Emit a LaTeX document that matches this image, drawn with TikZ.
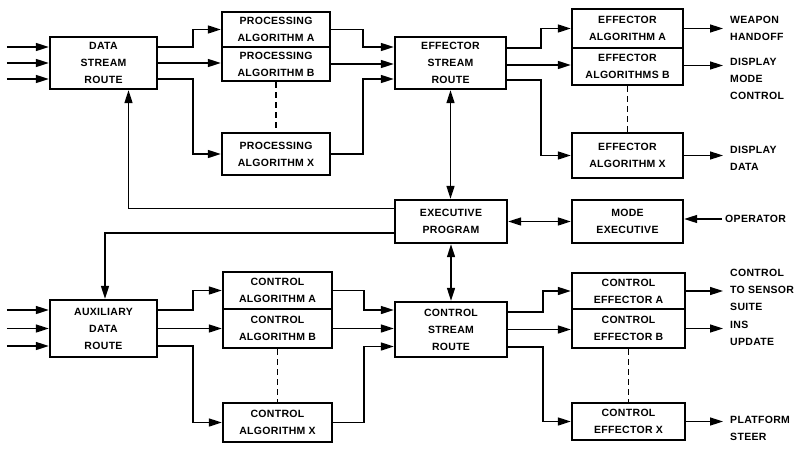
\documentclass[tikz,border=0pt]{standalone}
\usepackage{fontspec}
\setmainfont{Liberation Sans}[LetterSpace=3]
\usetikzlibrary{arrows.meta,calc}
\begin{document}
\begin{tikzpicture}[x=1pt,y=-1pt,
  every node/.style={font=\bfseries\fontsize{10.5}{17}\selectfont},
  box/.style={draw,line width=2.4pt,rectangle,align=center,inner sep=0pt},
  conn/.style={line width=1.5pt},
  arr/.style={conn,-{Triangle[length=13pt,width=8pt]}},
  darr/.style={conn,{Triangle[length=13pt,width=8pt]}-{Triangle[length=13pt,width=8pt]}},
  dsh/.style={conn,dash pattern=on 6pt off 4pt},
  lbl/.style={align=left,inner sep=0pt,anchor=west}]
\useasboundingbox (0,0) rectangle (799,452);

% --- upper chain: data stream ---
\node[box,minimum width=107pt,minimum height=52pt] (dsr) at (103.5,63) {DATA\\STREAM\\ROUTE};
\node[box,minimum width=108pt,minimum height=35pt] (pA) at (276,29.5) {PROCESSING\\ALGORITHM A};
\node[box,minimum width=108pt,minimum height=34pt] (pB) at (276,64) {PROCESSING\\ALGORITHM B};
\node[box,minimum width=108pt,minimum height=42pt] (pX) at (276,154) {PROCESSING\\ALGORITHM X};
\node[box,minimum width=111pt,minimum height=52pt] (esr) at (450.5,63) {EFFECTOR\\STREAM\\ROUTE};
\node[box,minimum width=111pt,minimum height=39pt] (eA) at (627.5,28.5) {EFFECTOR\\ALGORITHM A};
\node[box,minimum width=111pt,minimum height=37pt] (eB) at (627.5,66.5) {EFFECTOR\\ALGORITHMS B};
\node[box,minimum width=111pt,minimum height=45pt] (eX) at (627.5,155.5) {EFFECTOR\\ALGORITHM X};

% --- executive row ---
\node[box,minimum width=112pt,minimum height=43pt] (exe) at (451,221.5) {EXECUTIVE\\PROGRAM};
\node[box,minimum width=111pt,minimum height=43pt] (mode) at (627.5,221.5) {MODE\\EXECUTIVE};

% --- lower chain: auxiliary data ---
\node[box,minimum width=107pt,minimum height=57pt] (aux) at (103.5,328.5) {AUXILIARY\\DATA\\ROUTE};
\node[box,minimum width=109pt,minimum height=37pt] (cA) at (277.5,290.5) {CONTROL\\ALGORITHM A};
\node[box,minimum width=109pt,minimum height=39pt] (cB) at (277.5,328.5) {CONTROL\\ALGORITHM B};
\node[box,minimum width=109pt,minimum height=39pt] (cX) at (277.5,422.5) {CONTROL\\ALGORITHM X};
\node[box,minimum width=112pt,minimum height=55pt] (csr) at (451,329.5) {CONTROL\\STREAM\\ROUTE};
\node[box,minimum width=113pt,minimum height=36pt] (ceA) at (628.5,291) {CONTROL\\EFFECTOR A};
\node[box,minimum width=113pt,minimum height=39pt] (ceB) at (628.5,328.5) {CONTROL\\EFFECTOR B};
\node[box,minimum width=113pt,minimum height=37pt] (ceX) at (628.5,421.5) {CONTROL\\EFFECTOR X};

% --- output labels ---
\node[lbl] (wh) at (730,28.5) {WEAPON\\HANDOFF};
\node[lbl,anchor=north west] (dmc) at (730,58) {DISPLAY\\MODE\\CONTROL};
\node[lbl] (dd) at (730,158) {DISPLAY\\DATA};
\node[lbl] (op) at (725,219) {OPERATOR};
\node[lbl] (cts) at (730,290) {CONTROL\\TO SENSOR\\SUITE};
\node[lbl,anchor=north west] (ins) at (730,321) {INS\\UPDATE};
\node[lbl,anchor=north west] (pst) at (730,416) {PLATFORM\\STEER};

% --- inputs ---
\foreach \s in {16,0,-16}{
  \draw[arr] ([xshift=-42pt,yshift=\s pt]dsr.west) -- ([yshift=\s pt]dsr.west);
}
\foreach \s in {18.5,0,-17.5}{
  \draw[arr] ([xshift=-42pt,yshift=\s pt]aux.west) -- ([yshift=\s pt]aux.west);
}

% --- data stream to processing algorithms ---
\draw[arr] ([yshift=16pt]dsr.east) -- ++(35,0) |- (pA.west);
\draw[arr] (dsr.east) -- (dsr.east -| pB.west);
\draw[arr] ([yshift=-16pt]dsr.east) -- ++(35,0) |- (pX.west);
\draw[dsh] (pB.south) -- (pX.north);

% --- processing algorithms to effector stream ---
\draw[arr] (pA.east) -- ++(32,0) |- ([yshift=16pt]esr.west);
\draw[arr] (pB.east) -- (pB.east -| esr.west);
\draw[arr] (pX.east) -- ++(32,0) |- ([yshift=-16pt]esr.west);

% --- effector stream to effector algorithms ---
\draw[arr] ([yshift=15pt]esr.east) -- ++(34,0) |- (eA.west);
\draw[arr] ([yshift=-2pt]esr.east) -- ([yshift=-2pt]esr.east -| eB.west);
\draw[arr] ([yshift=-17pt]esr.east) -- ++(34,0) |- (eX.west);
\draw[dsh] (eB.south) -- (eX.north);

% --- effector outputs ---
\draw[arr,shorten >=7pt] (eA.east) -- (eA.east -| wh.west);
\draw[arr,shorten >=7pt] ([yshift=1pt]eB.east) -- ([yshift=1pt]eB.east -| dmc.west);
\draw[arr,shorten >=7pt] (eX.east) -- (eX.east -| dd.west);

% --- executive links ---
\draw[darr] (esr.south) -- (esr.south |- exe.north);
\draw[darr] (exe.east) -- (mode.west);
\draw[arr] ([xshift=-3pt]op.west) -- (op.west -| mode.east);
\draw[arr] ([yshift=13pt]exe.west) -| ([xshift=25pt]dsr.south);
\draw[arr] ([yshift=-11.5pt]exe.west) -| ([xshift=1.5pt]aux.north);
\draw[darr] (exe.south) -- (exe.south |- csr.north);

% --- auxiliary data to control algorithms ---
\draw[arr] ([yshift=18.5pt]aux.east) -- ++(35,0) |- (cA.west);
\draw[arr] (aux.east) -- (aux.east -| cB.west);
\draw[arr] ([yshift=-17.5pt]aux.east) -- ++(35,0) |- (cX.west);
\draw[dsh] (cB.south) -- (cX.north);

% --- control algorithms to control stream ---
\draw[arr] (cA.east) -- ++(31,0) |- ([yshift=19.5pt]csr.west);
\draw[arr] (cB.east) -- (cB.east -| csr.west);
\draw[arr] (cX.east) -- ++(31,0) |- ([yshift=-17pt]csr.west);

% --- control stream to control effectors ---
\draw[arr] ([yshift=17.5pt]csr.east) -- ++(35,0) |- (ceA.west);
\draw[arr] (csr.east) -- (csr.east -| ceB.west);
\draw[arr] ([yshift=-17.5pt]csr.east) -- ++(35,0) |- (ceX.west);
\draw[dsh] (ceB.south) -- (ceX.north);

% --- control effector outputs ---
\draw[arr,shorten >=7pt] (ceA.east) -- (ceA.east -| cts.west);
\draw[arr,shorten >=7pt] (ceB.east) -- (ceB.east -| ins.west);
\draw[arr,shorten >=7pt] (ceX.east) -- (ceX.east -| pst.west);
\end{tikzpicture}
\end{document}
